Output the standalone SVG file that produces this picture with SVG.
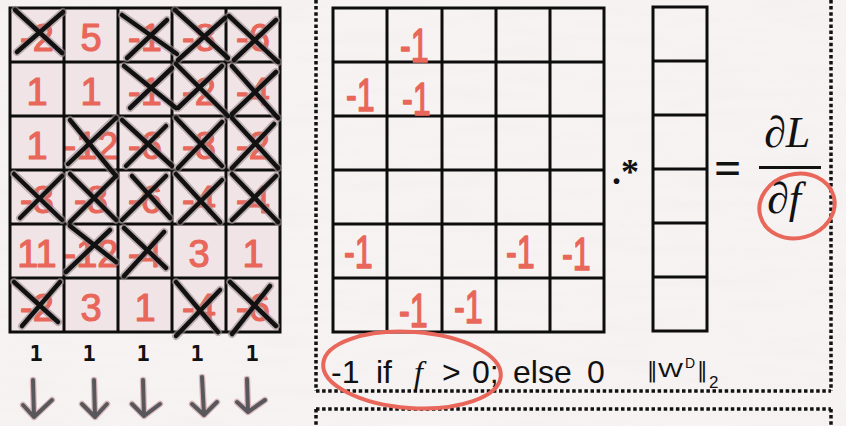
<svg xmlns="http://www.w3.org/2000/svg" width="846" height="426" viewBox="0 0 846 426">
<style>
.grid{fill:none;stroke:#0d0d0d;stroke-width:3}
.dots{fill:none;stroke:#111;stroke-width:3.5;stroke-dasharray:3.5 2.6}
.red{font-family:"Liberation Sans",Arial,sans-serif;fill:#e8675a;stroke:#e8675a;stroke-width:1.2;stroke-linejoin:round}
.num{font-size:38px;text-anchor:middle}
.m1{font-size:38px}
.ring{fill:none;stroke:#e8675a;stroke-width:4}
.txt{font-family:"Liberation Sans",Arial,sans-serif;fill:#111}
.one{font-family:"DejaVu Sans Mono","Liberation Mono",monospace;font-size:22px;font-weight:bold;fill:#111;text-anchor:middle}
.math{font-family:"Liberation Serif","Times New Roman",serif;fill:#111}
.arrow{fill:none;stroke-linecap:round;stroke-linejoin:round}
</style>
<defs>
<filter id="paper" x="0" y="0" width="100%" height="100%">
<feTurbulence type="fractalNoise" baseFrequency="0.012 0.09" numOctaves="2" seed="4"/>
<feColorMatrix values="0 0 0 0 0.86  0 0 0 0 0.8  0 0 0 0 0.82  0.7 0 0 0 -0.25"/>
</filter>
<g id="crosses">
<path d="M15,10 L62,53 M63,12 L17,52"/>
<path d="M122,15 L177,54 M167,20 L127,58"/>
<path d="M175,10 L228,58 M225,18 L178,60"/>
<path d="M229,16 L278,62 M276,20 L234,60"/>
<path d="M124,66 L176,108 M172,68 L130,108"/>
<path d="M176,64 L228,116 M222,66 L178,108"/>
<path d="M232,66 L278,118 M276,72 L232,114"/>
<path d="M70,120 L116,176 M116,118 L68,164"/>
<path d="M122,120 L172,166 M166,126 L126,166"/>
<path d="M176,118 L222,166 M222,122 L178,168"/>
<path d="M232,118 L278,168 M274,124 L232,168"/>
<path d="M14,174 L62,220 M62,176 L20,218"/>
<path d="M70,174 L116,220 M116,176 L70,222"/>
<path d="M132,176 L170,218 M166,176 L122,220"/>
<path d="M176,174 L220,222 M222,180 L180,222"/>
<path d="M232,174 L278,222 M276,176 L232,220"/>
<path d="M70,226 L116,262 M110,230 L66,272"/>
<path d="M124,228 L166,268 M164,232 L124,276"/>
<path d="M14,282 L58,322 M60,282 L22,326"/>
<path d="M176,282 L218,332 M220,290 L176,336"/>
<path d="M230,282 L276,326 M270,286 L232,334"/>
</g>
<g id="arrowshapes">
<path d="M33,380 L34,417 M23,405 L34,417 L52,400"/>
<path d="M94,380 L95,417 M82,404 L95,417 L107,404"/>
<path d="M143,380 L144,416 M132,404 L144,416 L160,404"/>
<path d="M202,377 L204,415 M192,404 L204,415 L217,402"/>
<path d="M247,379 L248,412 M237,402 L248,412 L265,400"/>
</g>
</defs>

<rect width="846" height="426" fill="#f6f3f2"/>
<rect width="846" height="426" filter="url(#paper)" opacity="0.6"/>

<g id="weights-matrix">
<rect x="10" y="8" width="270" height="324" fill="#f1e4e7"/>
<g class="red num">
<text x="37" y="51">-2</text><text x="91" y="51">5</text><text x="145" y="51">-1</text><text x="199" y="51">-8</text><text x="253" y="51">-6</text>
<text x="37" y="105">1</text><text x="91" y="105">1</text><text x="145" y="105">-1</text><text x="199" y="105">-2</text><text x="253" y="105">-4</text>
<text x="37" y="159">1</text><text x="91" y="159">-12</text><text x="145" y="159">-6</text><text x="199" y="159">-8</text><text x="253" y="159">-2</text>
<text x="37" y="213">-3</text><text x="91" y="213">-8</text><text x="145" y="213">-6</text><text x="199" y="213">-4</text><text x="253" y="213">-4</text>
<text x="37" y="267">11</text><text x="91" y="267">-12</text><text x="145" y="267">-4</text><text x="199" y="267">3</text><text x="253" y="267">1</text>
<text x="37" y="321">-2</text><text x="91" y="321">3</text><text x="145" y="321">1</text><text x="199" y="321">-4</text><text x="253" y="321">-6</text>
</g>
<path class="grid" d="M10,8 H280 V332 H10 Z M64,8 V332 M118,8 V332 M172,8 V332 M226,8 V332 M10,62 H280 M10,116 H280 M10,170 H280 M10,224 H280 M10,278 H280"/>
<use href="#crosses" fill="none" stroke="#9b8b8e" stroke-width="8" stroke-linecap="round" opacity="0.6"/>
<use href="#crosses" fill="none" stroke="#111" stroke-width="4.5" stroke-linecap="round"/>
</g>

<g id="column-ones">
<text class="one" x="36" y="361">1</text>
<text class="one" x="89" y="361">1</text>
<text class="one" x="143" y="361">1</text>
<text class="one" x="197" y="361">1</text>
<text class="one" x="252" y="361">1</text>
</g>

<g id="arrows" class="arrow">
<use href="#arrowshapes" stroke="#d9b9bd" stroke-width="6.5"/>
<use href="#arrowshapes" stroke="#58585c" stroke-width="4"/>
</g>

<g id="panel-border">
<path class="dots" d="M316,0 V391 M831,0 V391 M316,391 H831 M316,409 H831 M316,409 V426 M831,409 V426"/>
</g>

<g id="gradient-matrix">
<path class="grid" d="M333,8 H604 V332 H333 Z M387,8 V332 M442,8 V332 M496,8 V332 M550,8 V332 M333,62 H604 M333,116 H604 M333,170 H604 M333,224 H604 M333,278 H604"/>
<g class="red m1">
<text transform="translate(400,62) scale(0.85,1.25)">-1</text>
<text transform="translate(346,111) scale(0.85,1.2)">-1</text>
<text transform="translate(402,115) scale(0.85,1.2)">-1</text>
<text transform="translate(344,268) scale(0.85,1.2)">-1</text>
<text transform="translate(506,268) scale(0.85,1.2)">-1</text>
<text transform="translate(562,270) scale(0.85,1.2)">-1</text>
<text transform="translate(399,327) scale(0.85,1.25)">-1</text>
<text transform="translate(454,323) scale(0.85,1.2)">-1</text>
</g>
</g>

<g id="elementwise-op">
<text class="math" x="612" y="184" font-size="36" font-weight="bold">.*</text>
</g>

<g id="gradient-vector">
<path class="grid" d="M653,7 H707 V331 H653 Z M653,61 H707 M653,115 H707 M653,169 H707 M653,223 H707 M653,277 H707"/>
</g>

<g id="equals">
<text class="math" x="714" y="184" font-size="48" font-weight="bold">=</text>
</g>

<g id="dL-df">
<text class="math" x="764" y="147" font-size="44" font-style="italic">∂L</text>
<rect x="759" y="166" width="62" height="3" fill="#111"/>
<text class="math" x="767" y="213" font-size="44" font-style="italic">∂f</text>
<ellipse class="ring" cx="797" cy="206" rx="38" ry="32" transform="rotate(-15 797 206)"/>
</g>

<g id="condition">
<text class="txt" y="383" font-size="32"><tspan x="331">-1</tspan><tspan x="376">if</tspan><tspan x="414" font-family="'Liberation Serif',serif" font-style="italic">f</tspan><tspan x="442">&gt;</tspan><tspan x="472">0;</tspan><tspan x="513">else</tspan><tspan x="587">0</tspan></text>
<ellipse class="ring" cx="412" cy="370" rx="89" ry="38" transform="rotate(4 412 370)"/>
</g>

<g id="norm" class="txt">
<text x="647" y="377" font-size="21" font-family="'DejaVu Sans',sans-serif">‖</text>
<text x="658" y="377" font-size="21" textLength="25" lengthAdjust="spacingAndGlyphs">W</text>
<text x="685" y="368" font-size="14">D</text>
<text x="697" y="377" font-size="21" font-family="'DejaVu Sans',sans-serif">‖</text>
<text x="709" y="388" font-size="17">2</text>
</g>
</svg>
